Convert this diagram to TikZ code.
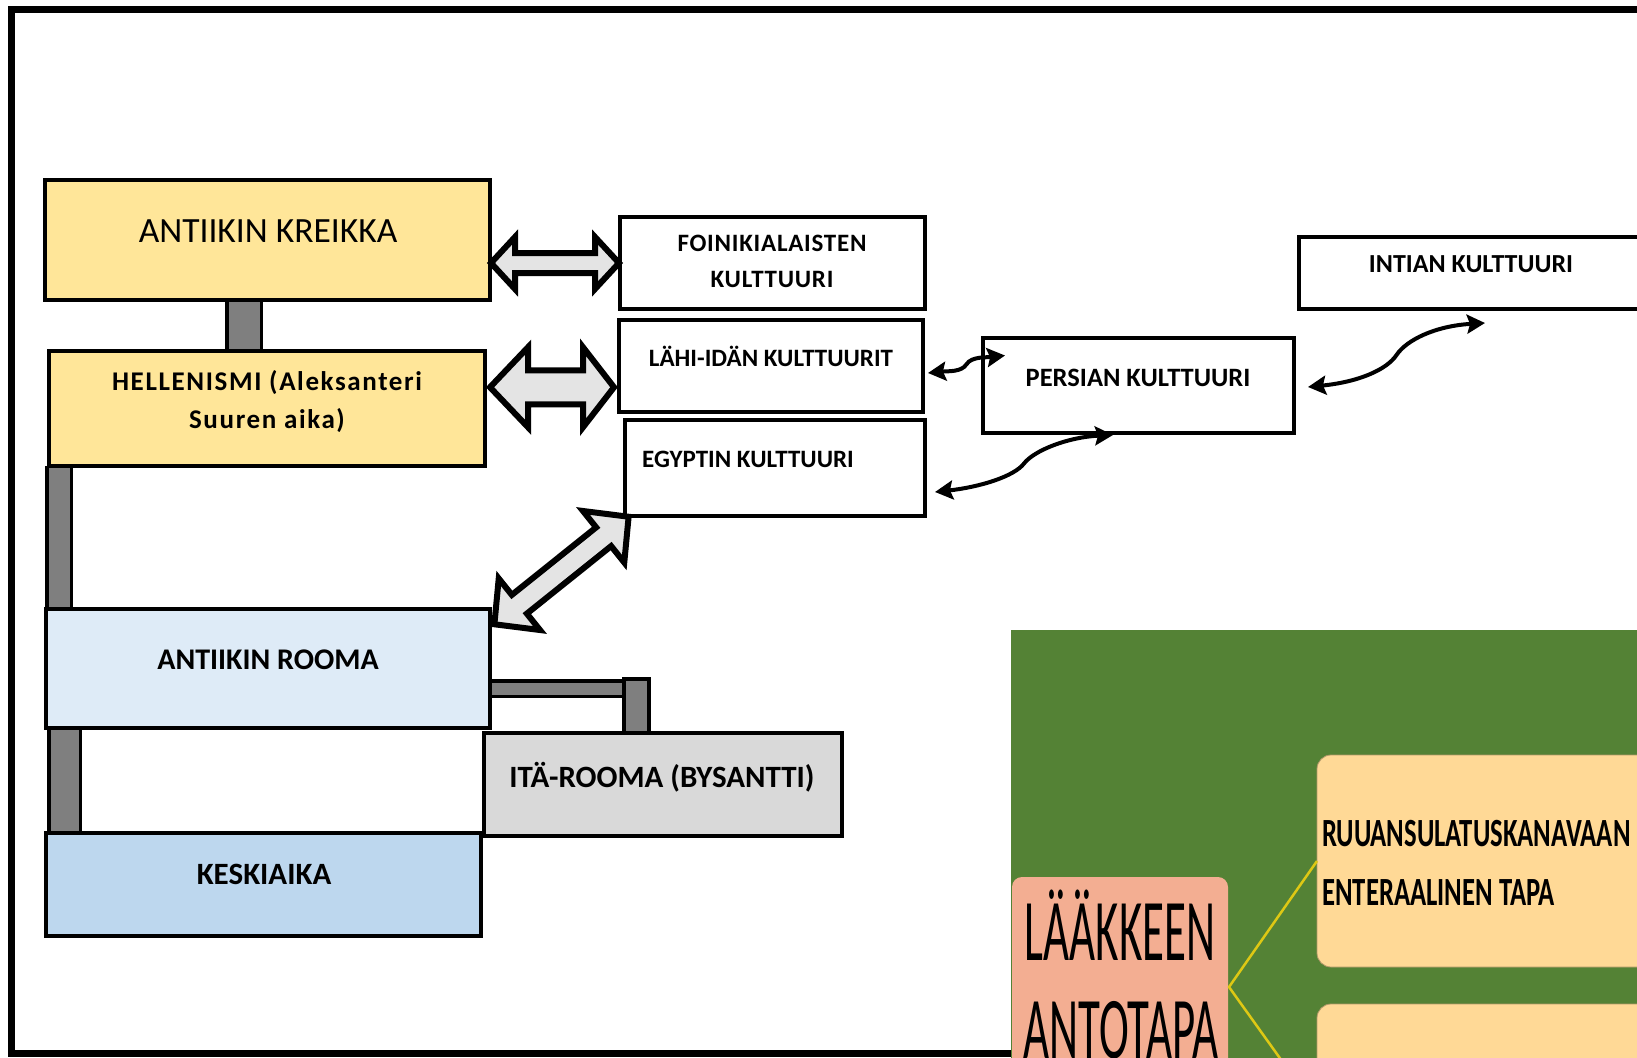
\documentclass[tikz,border=0pt]{standalone}
\usepackage{fontspec}
\setmainfont{Carlito}
\usepackage{graphicx}
\usetikzlibrary{arrows.meta,calc}
\pgfdeclarelayer{background}
\pgfsetlayers{background,main}
\definecolor{kreikkaY}{HTML}{FFE699}
\definecolor{roomaB}{HTML}{DEEBF7}
\definecolor{keskiB}{HTML}{BDD7EE}
\definecolor{itaG}{HTML}{D9D9D9}
\definecolor{barG}{HTML}{7F7F7F}
\definecolor{panelG}{HTML}{548235}
\definecolor{salmonC}{RGB}{243,174,146}
\definecolor{paleY}{RGB}{255,217,150}
\definecolor{goldL}{RGB}{222,200,20}
\definecolor{arrowFill}{RGB}{228,228,228}
\newcommand\setfs[2]{\fontsize{#1}{#2}\selectfont}
\newcommand\blkarrow[7]{%
  \begin{scope}[shift={#1},rotate=#2]
    \draw[blockarrow] (-#3,0) -- (-#3+#6,#5) -- (-#3+#6,#4) -- (#3-#7,#4) -- (#3-#7,#5) -- (#3,0)
      -- (#3-#7,-#5) -- (#3-#7,-#4) -- (-#3+#6,-#4) -- (-#3+#6,-#5) -- cycle;
  \end{scope}}
\begin{document}
\begin{tikzpicture}[x=1pt,y=-1pt,
  box/.style={draw=black, line width=4.5pt, rectangle, inner sep=0pt, outer sep=0pt},
  grayconn/.style={draw=black, line width=3.5pt, double=barG, double distance=#1, line join=miter},
  blockarrow/.style={draw=black, fill=arrowFill, line width=6pt, line join=miter},
  curvearrow/.style={line width=4pt, <->, >={Stealth[length=18pt,width=19pt,inset=3pt]}},
  lbl/.style={anchor=base, inner sep=0pt},
  lblw/.style={anchor=base west, inner sep=0pt},
  rbox/.style={rectangle, rounded corners=#1, inner sep=0pt, outer sep=0pt},
]
\useasboundingbox (0,0) rectangle (1637,1057);
\clip (0,0) rectangle (1637,1057);

% outer frame
\draw[line width=7pt] (11,10) rectangle (1720,1053);

% left column boxes
\node[box, fill=kreikkaY, minimum width=445pt, minimum height=120pt] (kreikka) at (267.5,240) {};
\node[box, fill=kreikkaY, minimum width=436pt, minimum height=115pt] (hellen) at (267,408.5) {};
\node[box, fill=roomaB, minimum width=444pt, minimum height=119pt] (rooma) at (268,668.5) {};
\node[box, fill=keskiB, minimum width=435pt, minimum height=103pt] (keski) at (263.5,884.5) {};
\node[box, fill=itaG, minimum width=358pt, minimum height=103pt] (ita) at (663,784.5) {};

% culture boxes
\node[box, fill=white, minimum width=305pt, minimum height=92pt] (foin) at (772.5,263) {};
\node[box, fill=white, minimum width=304pt, minimum height=92pt] (lahi) at (771,366) {};
\node[box, fill=white, minimum width=300pt, minimum height=96pt] (egypt) at (775,468) {};
\node[box, fill=white, minimum width=311pt, minimum height=95pt] (persian) at (1138.5,385.5) {};
\node[box, fill=white, minimum width=346pt, minimum height=72pt] (intian) at (1472,273) {};

% gray elbow connectors (behind boxes)
\coordinate (h1) at ($(rooma.east)+(0,20)$);
\coordinate (h2x) at ($(ita.north west)+(141,0)$);
\begin{pgfonlayer}{background}
\fill[white] (0,0) rectangle (1637,1057);
\draw[grayconn=31pt] ($(kreikka.south)+(-23.5,0)$) -- ($(hellen.north)+(-23,0)$);
\draw[grayconn=21pt] ($(hellen.south west)+(10,0)$) -- ($(rooma.north west)+(13,0)$);
\draw[grayconn=28pt] ($(rooma.south west)+(18.5,0)$) -- ($(keski.north west)+(18.5,0)$);
\draw[grayconn=12pt] (h1) -- (h1 -| h2x);
\draw[draw=black, fill=barG, line width=3.5pt] ($(ita.north west)+(140,-54)$) rectangle ($(ita.north west)+(165,0)$);
\end{pgfonlayer}

% texts
\node[lbl] (tkreikka) at (268,242) {\setfs{35.5}{40}ANTIIKIN KREIKKA};
\node[lbl] (thell1) at (267,390) {\setfs{27}{30}\bfseries\addfontfeature{LetterSpace=6}HELLENISMI (Aleksanteri};
\node[lbl] (thell2) at (267,428) {\setfs{27}{30}\bfseries\addfontfeature{LetterSpace=6}Suuren aika)};
\node[lbl] (trooma) at (268,669) {\setfs{30}{34}\bfseries ANTIIKIN ROOMA};
\node[lbl] (tita) at (662,787) {\setfs{31}{34}\bfseries ITÄ-ROOMA (BYSANTTI)};
\node[lbl] (tkeski) at (264,884) {\setfs{31}{34}\bfseries KESKIAIKA};
\node[lbl] (tfoin1) at (772,251) {\setfs{25}{28}\bfseries\addfontfeature{LetterSpace=3}FOINIKIALAISTEN};
\node[lbl] (tfoin2) at (772,287) {\setfs{25}{28}\bfseries\addfontfeature{LetterSpace=3}KULTTUURI};
\node[lbl] (tlahi) at (771,366) {\setfs{25}{28}\bfseries LÄHI-IDÄN KULTTUURIT};
\node[lblw] (tegypt) at (642,467) {\setfs{25}{28}\bfseries EGYPTIN KULTTUURI};
\node[lbl] (tpers) at (1138,386) {\setfs{26.5}{30}\bfseries PERSIAN KULTTUURI};
\node[lbl] (tint) at (1471,272) {\setfs{26}{30}\bfseries INTIAN KULTTUURI};

% block arrows
\coordinate (ar1c) at ($(kreikka.east |- foin.west)!0.5!(foin.west)$);
\coordinate (ar2c) at ($(hellen.east)!0.5!(lahi.west)$);
\coordinate (ar3c) at ($(rooma.north east)!0.5!(egypt.south west)+(4,8)$);
\blkarrow{(ar1c)}{0}{64}{10}{26}{24}{24}
\blkarrow{(ar2c)}{0}{62}{17}{40}{38}{31}
\blkarrow{(ar3c)}{38.7}{86}{12}{33}{32}{32}

% curved double arrows
\coordinate (a1) at ($(lahi.east)+(5,7)$);
\coordinate (a2) at ($(persian.west)+(22,-30)$);
\coordinate (am) at ($(a1)!0.5!(a2)$);
\draw[curvearrow] (a1) .. controls +(20,-2) and +(-5,8) .. (am) .. controls +(5,-8) and +(-18,2) .. (a2);
\coordinate (b1) at ($(egypt.east)+(10,24)$);
\coordinate (b2) at ($(persian.south)+(-25.5,2)$);
\coordinate (bm) at ($(b1)!0.5!(b2)$);
\draw[curvearrow] (b1) .. controls +(45,-5) and +(-10,13) .. (bm) .. controls +(10,-13) and +(-45,2) .. (b2);
\coordinate (c1) at ($(persian.east)+(14,1.5)$);
\coordinate (c2) at ($(intian.south)+(13,14)$);
\coordinate (cm) at ($(c1)!0.5!(c2)$);
\draw[curvearrow] (c1) .. controls +(50,-5) and +(-10,15) .. (cm) .. controls +(10,-15) and +(-50,3) .. (c2);

% green panel (pasted picture)
\fill[panelG] (1011,630) rectangle (1720,1100);
\node[rbox=10pt, fill=salmonC, minimum width=216pt, minimum height=243pt] (salmon) at (1120,998.5) {};
\node[rbox=14pt, fill=paleY, draw=paleY!70!black, line width=0.8pt, minimum width=363pt, minimum height=212pt] (ybox1) at (1498.5,861) {};
\node[rbox=14pt, fill=paleY, draw=paleY!70!black, line width=0.8pt, minimum width=363pt, minimum height=212pt] (ybox2) at (1498.5,1110) {};
\coordinate (sj) at ($(salmon.east)+(1,-11.5)$);
\draw[goldL, line width=2.5pt] (ybox1.west) -- (sj) -- (ybox2.west);
\node[lbl] (tlaak1) at (1120,960) {\scalebox{0.51}[1]{\setfs{88}{90}LÄÄKKEEN}};
\node[lbl] (tlaak2) at (1121,1058) {\scalebox{0.51}[1]{\setfs{88}{90}ANTOTAPA}};
\node[lblw] (truuan) at (1322,846) {\scalebox{0.667}[1]{\setfs{40}{44}\bfseries RUUANSULATUSKANAVAAN}};
\node[lblw] (tenter) at (1322,905) {\scalebox{0.667}[1]{\setfs{40}{44}\bfseries ENTERAALINEN TAPA}};
\end{tikzpicture}
\end{document}
